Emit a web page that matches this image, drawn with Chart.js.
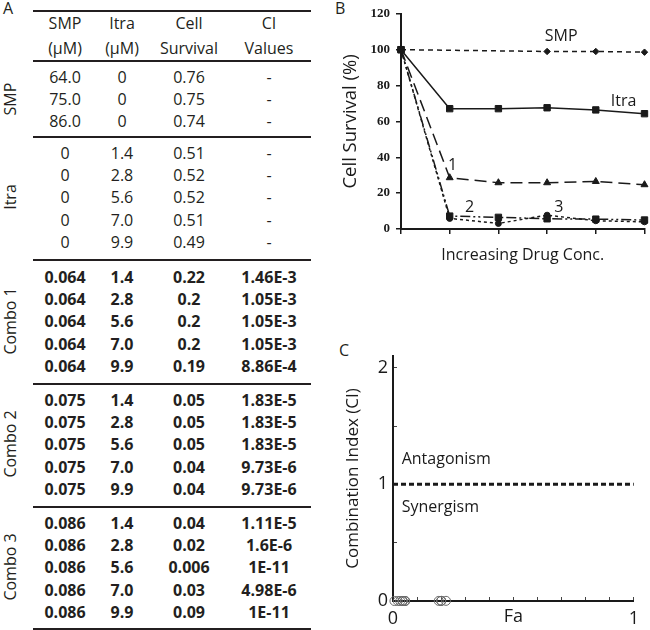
<!DOCTYPE html>
<html><head><meta charset="utf-8">
<script src="https://cdn.jsdelivr.net/npm/chart.js@4.4.1/dist/chart.umd.min.js"></script>
<style>
body{margin:0;background:#fff;width:650px;height:630px;overflow:hidden;position:relative;font-family:"Open Sans",sans-serif;color:#231f20}
.t{position:absolute;white-space:nowrap;transform:translate(-50%,-50%);font-size:16px;line-height:1}
.b{font-weight:bold}
.rule{position:absolute;left:33px;width:278px;height:2px;background:#231f20}
.rot{position:absolute;white-space:nowrap;transform:translate(-50%,-50%) rotate(-90deg);font-size:16px;line-height:1}
.panel{position:absolute;font-size:16px;line-height:1}
#cb{position:absolute;left:330px;top:0}
#cc{position:absolute;left:330px;top:320px}
</style></head><body>
<div class="panel" style="left:3px;top:0px">A</div>
<div class="panel" style="left:335px;top:0px">B</div>
<div class="panel" style="left:339px;top:342px">C</div>
<div id="tbl"></div>
<canvas id="cb" width="320" height="300"></canvas>
<canvas id="cc" width="320" height="310"></canvas>
<script>
// ---------- Panel A: table data ----------
const headerTop = ['SMP', 'Itra', 'Cell', 'CI'];
const headerBottom = ['(\u00b5M)', '(\u00b5M)', 'Survival', 'Values'];
const groupNames = ['SMP', 'Itra', 'Combo 1', 'Combo 2', 'Combo 3'];
const groupSizes = [3, 5, 5, 5, 5];
const boldGroups = [false, false, true, true, true];
const colSMP = ['64.0','75.0','86.0','0','0','0','0','0','0.064','0.064','0.064','0.064','0.064','0.075','0.075','0.075','0.075','0.075','0.086','0.086','0.086','0.086','0.086'];
const colItra = ['0','0','0','1.4','2.8','5.6','7.0','9.9','1.4','2.8','5.6','7.0','9.9','1.4','2.8','5.6','7.0','9.9','1.4','2.8','5.6','7.0','9.9'];
const colSurvival = ['0.76','0.75','0.74','0.51','0.52','0.52','0.51','0.49','0.22','0.2','0.2','0.2','0.19','0.05','0.05','0.05','0.04','0.04','0.04','0.02','0.006','0.03','0.09'];
const colCI = ['-','-','-','-','-','-','-','-','1.46E-3','1.05E-3','1.05E-3','1.05E-3','8.86E-4','1.83E-5','1.83E-5','1.83E-5','9.73E-6','9.73E-6','1.11E-5','1.6E-6','1E-11','4.98E-6','1E-11'];

// ---------- Panel B: cell survival (%) ----------
const concSteps = ['0', '1', '2', '3', '4', '5'];
const survSMP = [100, null, null, 99.0, 99.0, 98.6];
const survItra = [100, 67.1, 67.1, 67.6, 66.4, 64.3];
const survCombo1 = [100, 28.6, 25.8, 25.8, 26.5, 24.7];
const survCombo2 = [100, 7.2, 6.5, 5.7, 5.5, 5.0];
const survCombo3 = [100, 5.9, 3.1, 7.7, 4.6, 4.0];

// ---------- Panel C: combination index ----------
const faValues = [0.22, 0.2, 0.2, 0.2, 0.19, 0.05, 0.05, 0.05, 0.04, 0.04, 0.04, 0.02, 0.006, 0.03];
const ciValues = [1.46e-3, 1.05e-3, 1.05e-3, 1.05e-3, 8.86e-4, 1.83e-5, 1.83e-5, 1.83e-5, 9.73e-6, 9.73e-6, 1.11e-5, 1.6e-6, 1e-11, 4.98e-6];
const ciThreshold = 1;

// ---------- Table layout ----------
(function buildTable() {
  const colX = [65, 122, 189, 269];
  const headerY = [23, 48];
  const groupTop = [77, 153, 277, 400, 523];
  const rowStep = 22.2;
  const ruleY = [10, 60, 136, 259, 383, 506, 628];
  const host = document.getElementById('tbl');
  let html = '';
  ruleY.forEach(y => { html += `<div class="rule" style="top:${y}px"></div>`; });
  headerTop.forEach((s, i) => { html += `<div class="t" style="left:${colX[i]}px;top:${headerY[0]}px">${s}</div>`; });
  headerBottom.forEach((s, i) => { html += `<div class="t" style="left:${colX[i]}px;top:${headerY[1]}px">${s}</div>`; });
  const cols = [colSMP, colItra, colSurvival, colCI];
  let r = 0;
  groupSizes.forEach((n, g) => {
    const cls = boldGroups[g] ? 't b' : 't';
    for (let k = 0; k < n; k++, r++) {
      const y = groupTop[g] + k * rowStep;
      cols.forEach((c, i) => { html += `<div class="${cls}" style="left:${colX[i]}px;top:${y}px">${c[r]}</div>`; });
    }
    const cy = groupTop[g] + (n - 1) * rowStep / 2;
    html += `<div class="rot" style="left:10px;top:${cy}px">${groupNames[g]}</div>`;
  });
  host.innerHTML = html;
})();

const INK = '#1a1a1a';
const SANS = '"Open Sans", sans-serif';

// ---------- Panel B chart ----------
const labelsB = [
  {text: 'SMP', x: 3.29, y: 107.3},
  {text: 'Itra', x: 4.57, y: 71.3},
  {text: '1', x: 1.06, y: 35.4},
  {text: '2', x: 1.41, y: 12.2},
  {text: '3', x: 3.24, y: 12.2}
];
const textPluginB = {
  id: 'textB',
  afterDatasetsDraw(chart) {
    const {ctx, scales: {x, y}} = chart;
    ctx.save();
    ctx.fillStyle = INK;
    ctx.font = '16px ' + SANS;
    ctx.textAlign = 'center';
    ctx.textBaseline = 'middle';
    labelsB.forEach(l => ctx.fillText(l.text, x.getPixelForValue(l.x), y.getPixelForValue(l.y)));
    ctx.restore();
  }
};
function ds(data, dash, style, radius, width) {
  return {data, borderColor: INK, backgroundColor: INK, borderWidth: width || 1.5,
    borderDash: dash, pointStyle: style, pointRadius: radius, pointHoverRadius: radius,
    pointBorderWidth: 1, tension: 0, spanGaps: true, fill: false};
}
new Chart(document.getElementById('cb'), {
  type: 'line',
  data: {
    labels: concSteps,
    datasets: [
      ds(survSMP, [5, 4], 'rectRot', 3.2),
      ds(survItra, [], 'rect', 4.5),
      ds(survCombo1, [12, 6], 'triangle', 4),
      ds(survCombo2, [10, 3, 2, 3, 2, 3], 'rect', 4.5),
      ds(survCombo3, [3, 3], 'circle', 3)
    ]
  },
  options: {
    responsive: false, animation: false,
    layout: {padding: {left: 9.4, top: 12, right: 4, bottom: 0}},
    plugins: {legend: {display: false}, tooltip: {enabled: false}},
    scales: {
      x: {
        offset: false,
        grid: {drawOnChartArea: false, drawTicks: true, tickLength: 5, color: INK, lineWidth: 1.5},
        border: {color: INK, width: 2},
        ticks: {callback: () => '', font: {size: 1}},
        title: {display: true, text: 'Increasing Drug Conc.', color: INK, font: {family: SANS, size: 16}, padding: {top: 0, bottom: 35.4}},
        afterFit: s => { s.height = 71; }
      },
      y: {
        min: 0, max: 120,
        ticks: {stepSize: 20, color: INK, padding: 6, font: {family: '"Liberation Serif", serif', size: 13, weight: 'bold'}},
        grid: {drawOnChartArea: false, drawTicks: true, tickLength: 5, color: INK, lineWidth: 1.5},
        border: {color: INK, width: 2},
        title: {display: true, text: 'Cell Survival (%)', color: INK, font: {family: SANS, size: 18.5}, padding: {top: 0, bottom: 0}},
        afterFit: s => { s.width = 61.6; }
      }
    }
  },
  plugins: [textPluginB]
});

// ---------- Panel C chart ----------
const labelsC = [
  {text: 'Antagonism', x: 0.036, y: 1.21},
  {text: 'Synergism', x: 0.036, y: 0.805}
];
const textPluginC = {
  id: 'textC',
  afterDatasetsDraw(chart) {
    const {ctx, scales: {x, y}} = chart;
    ctx.save();
    ctx.fillStyle = INK;
    ctx.font = '16px ' + SANS;
    ctx.textAlign = 'left';
    ctx.textBaseline = 'middle';
    labelsC.forEach(l => ctx.fillText(l.text, x.getPixelForValue(l.x), y.getPixelForValue(l.y)));
    ctx.restore();
  }
};
new Chart(document.getElementById('cc'), {
  type: 'scatter',
  data: {
    datasets: [
      {
        data: [{x: 0, y: ciThreshold}, {x: 1, y: ciThreshold}],
        showLine: true, borderColor: INK, borderWidth: 3, borderDash: [5, 3], pointRadius: 0
      },
      {
        data: faValues.map((f, i) => ({x: f, y: ciValues[i]})),
        pointStyle: 'circle', pointRadius: 4.5, pointBorderWidth: 1,
        borderColor: '#6a6a6a', backgroundColor: 'rgba(255,255,255,0)', clip: false
      }
    ]
  },
  options: {
    responsive: false, animation: false,
    layout: {padding: {left: 12.8, top: 36, right: 5, bottom: 0}},
    plugins: {legend: {display: false}, tooltip: {enabled: false}},
    scales: {
      x: {
        type: 'linear', min: 0, max: 1,
        ticks: {stepSize: 0.1, includeBounds: false, padding: 11, color: INK, font: {family: SANS, size: 18},
          callback: v => (Math.abs(v) < 1e-9 ? '0' : Math.abs(v - 1) < 1e-9 ? '1' : '')},
        grid: {drawOnChartArea: false, drawTicks: true, tickLength: -4, color: '#444', lineWidth: 1},
        border: {color: INK, width: 2},
        title: {display: true, text: 'Fa', color: INK, font: {family: SANS, size: 18}, padding: {top: 0, bottom: 2}},
        afterFit: s => { s.height = 29; }
      },
      y: {
        type: 'linear', min: 0, max: 2.1,
        ticks: {stepSize: 0.5, includeBounds: false, padding: 9, color: INK, font: {family: SANS, size: 18},
          callback: v => (Math.abs(v - Math.round(v)) < 1e-9 ? String(Math.round(v)) : '')},
        grid: {drawOnChartArea: false, drawTicks: true, tickLength: -4, color: '#444', lineWidth: 1},
        border: {color: INK, width: 2},
        title: {display: true, text: 'Combination Index (CI)', color: INK, font: {family: SANS, size: 17}, padding: {top: 0, bottom: 0}},
        afterFit: s => { s.width = 50.2; }
      }
    }
  },
  plugins: [textPluginC]
});
</script>
</body></html>
